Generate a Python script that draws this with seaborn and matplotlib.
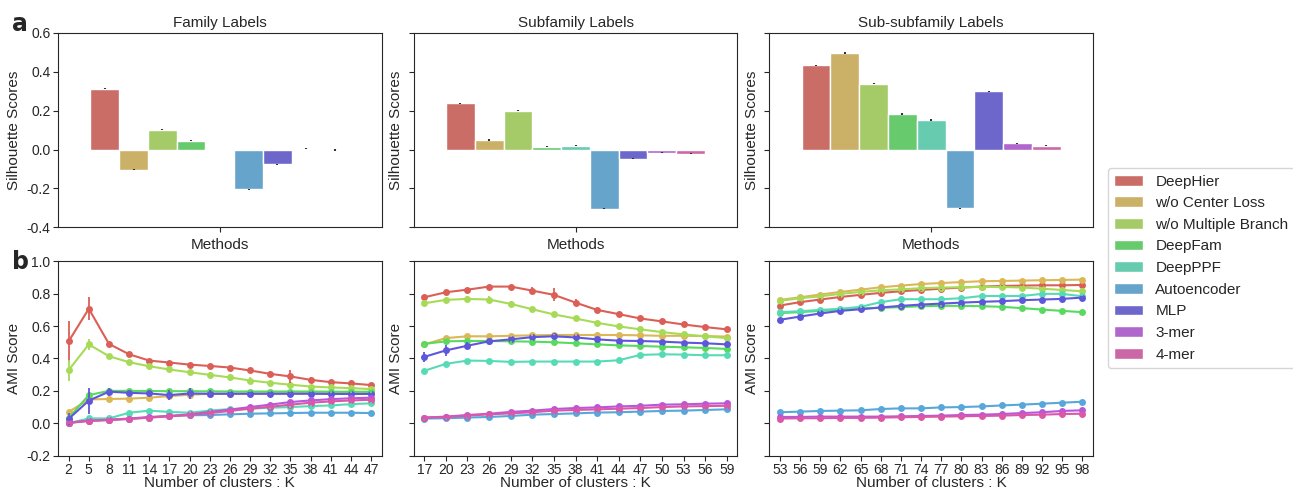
import numpy as np
import pandas as pd
import matplotlib
matplotlib.use("Agg")
import matplotlib.pyplot as plt
import matplotlib.patches as mpatches
import seaborn as sns

sns.set_style("ticks")
plt.rcParams['font.family'] = ['Liberation Sans', 'DejaVu Sans']
plt.rcParams['axes.unicode_minus'] = False

methods = ["DeepHier", "w/o Center Loss", "w/o Multiple Branch", "DeepFam", "DeepPPF",
           "Autoencoder", "MLP", "3-mer", "4-mer"]

# a: silhouette scores
sil_family = [0.313, -0.104, 0.103, 0.046, np.nan, -0.205, -0.075, 0.005, -0.002]
sil_subfamily = [0.239, 0.049, 0.200, 0.014, 0.019, -0.305, -0.048, -0.017, -0.022]
sil_subsub = [0.433, 0.497, 0.340, 0.183, 0.152, -0.302, 0.300, 0.032, 0.019]

# b: AMI scores vs K
k_family = list(range(2, 48, 3))
ami_family = {
    "DeepHier": [0.506, 0.707, 0.49, 0.426, 0.387, 0.375, 0.362, 0.354, 0.344, 0.326, 0.305, 0.289, 0.268, 0.254, 0.246, 0.236],
    "w/o Center Loss": [0.07, 0.147, 0.15, 0.152, 0.158, 0.168, 0.176, 0.182, 0.183, 0.184, 0.185, 0.186, 0.187, 0.188, 0.188, 0.19],
    "w/o Multiple Branch": [0.328, 0.487, 0.414, 0.377, 0.352, 0.332, 0.315, 0.299, 0.283, 0.264, 0.25, 0.238, 0.227, 0.221, 0.217, 0.211],
    "DeepFam": [0.033, 0.174, 0.2, 0.2, 0.199, 0.198, 0.198, 0.197, 0.196, 0.196, 0.196, 0.196, 0.196, 0.195, 0.195, 0.195],
    "DeepPPF": [0.0, 0.03, 0.03, 0.065, 0.078, 0.07, 0.065, 0.078, 0.088, 0.09, 0.096, 0.1, 0.106, 0.11, 0.118, 0.123],
    "Autoencoder": [0.0, 0.016, 0.02, 0.027, 0.035, 0.045, 0.049, 0.051, 0.055, 0.059, 0.061, 0.063, 0.065, 0.065, 0.065, 0.063],
    "MLP": [0.027, 0.14, 0.195, 0.188, 0.184, 0.174, 0.184, 0.182, 0.182, 0.182, 0.182, 0.182, 0.182, 0.181, 0.181, 0.181],
    "3-mer": [0.004, 0.016, 0.022, 0.029, 0.039, 0.045, 0.055, 0.07, 0.084, 0.1, 0.115, 0.131, 0.141, 0.149, 0.154, 0.158],
    "4-mer": [0.004, 0.014, 0.02, 0.027, 0.035, 0.043, 0.051, 0.063, 0.076, 0.09, 0.102, 0.115, 0.127, 0.135, 0.141, 0.145],
}
k_subfamily = list(range(17, 60, 3))
ami_subfamily = {
    "DeepHier": [0.778, 0.809, 0.825, 0.844, 0.844, 0.819, 0.793, 0.745, 0.70, 0.674, 0.647, 0.629, 0.61, 0.594, 0.58],
    "w/o Center Loss": [0.487, 0.526, 0.537, 0.537, 0.54, 0.543, 0.545, 0.545, 0.545, 0.545, 0.543, 0.54, 0.54, 0.539, 0.535],
    "w/o Multiple Branch": [0.741, 0.762, 0.768, 0.764, 0.737, 0.704, 0.672, 0.647, 0.62, 0.598, 0.58, 0.563, 0.549, 0.537, 0.526],
    "DeepFam": [0.49, 0.506, 0.508, 0.508, 0.506, 0.504, 0.5, 0.494, 0.487, 0.481, 0.477, 0.473, 0.469, 0.465, 0.459],
    "DeepPPF": [0.324, 0.367, 0.387, 0.385, 0.379, 0.381, 0.381, 0.381, 0.381, 0.389, 0.422, 0.426, 0.424, 0.42, 0.42],
    "Autoencoder": [0.029, 0.031, 0.035, 0.039, 0.045, 0.053, 0.057, 0.061, 0.066, 0.068, 0.072, 0.076, 0.078, 0.082, 0.086],
    "MLP": [0.41, 0.45, 0.479, 0.506, 0.518, 0.532, 0.537, 0.53, 0.518, 0.51, 0.508, 0.504, 0.498, 0.494, 0.487],
    "3-mer": [0.035, 0.041, 0.051, 0.059, 0.07, 0.078, 0.088, 0.094, 0.098, 0.104, 0.108, 0.115, 0.117, 0.121, 0.123],
    "4-mer": [0.035, 0.039, 0.047, 0.055, 0.061, 0.068, 0.078, 0.082, 0.086, 0.09, 0.094, 0.1, 0.104, 0.106, 0.108],
}
k_subsub = list(range(53, 99, 3))
ami_subsub = {
    "DeepHier": [0.727, 0.748, 0.764, 0.78, 0.793, 0.805, 0.815, 0.823, 0.831, 0.838, 0.844, 0.848, 0.85, 0.852, 0.852, 0.854],
    "w/o Center Loss": [0.762, 0.778, 0.795, 0.811, 0.825, 0.84, 0.85, 0.86, 0.866, 0.872, 0.877, 0.879, 0.881, 0.883, 0.885, 0.887],
    "w/o Multiple Branch": [0.756, 0.772, 0.784, 0.799, 0.811, 0.821, 0.827, 0.834, 0.838, 0.84, 0.842, 0.842, 0.838, 0.831, 0.823, 0.815],
    "DeepFam": [0.68, 0.686, 0.694, 0.7, 0.709, 0.713, 0.717, 0.723, 0.725, 0.725, 0.723, 0.719, 0.711, 0.702, 0.694, 0.686],
    "DeepPPF": [0.686, 0.692, 0.7, 0.707, 0.719, 0.748, 0.766, 0.766, 0.766, 0.772, 0.786, 0.786, 0.786, 0.799, 0.799, 0.784],
    "Autoencoder": [0.068, 0.072, 0.076, 0.078, 0.08, 0.088, 0.092, 0.092, 0.098, 0.1, 0.104, 0.11, 0.115, 0.121, 0.127, 0.133],
    "MLP": [0.639, 0.659, 0.678, 0.694, 0.704, 0.715, 0.725, 0.733, 0.739, 0.745, 0.75, 0.754, 0.76, 0.764, 0.768, 0.776],
    "3-mer": [0.039, 0.039, 0.041, 0.041, 0.041, 0.041, 0.043, 0.045, 0.047, 0.051, 0.053, 0.057, 0.063, 0.068, 0.076, 0.08],
    "4-mer": [0.029, 0.031, 0.031, 0.033, 0.033, 0.035, 0.037, 0.039, 0.041, 0.043, 0.045, 0.047, 0.051, 0.053, 0.057, 0.059],
}

# visible error bars (method, K, half-width); everything else gets a tiny one
big_err = [
    ("DeepHier", 2, 0.125), ("DeepHier", 5, 0.07), ("w/o Multiple Branch", 2, 0.065),
    ("w/o Multiple Branch", 5, 0.035), ("MLP", 2, 0.035), ("MLP", 5, 0.08), ("MLP", 8, 0.025),
    ("MLP", 11, 0.02), ("MLP", 14, 0.02), ("MLP", 17, 0.03), ("MLP", 20, 0.035), ("MLP", 23, 0.022),
    ("DeepHier", 32, 0.02), ("DeepHier", 35, 0.04), ("DeepHier", 38, 0.02),
    ("w/o Multiple Branch", 23, 0.02), ("w/o Multiple Branch", 26, 0.02), ("w/o Multiple Branch", 29, 0.02),
]
small_err = 0.008

pal = sns.color_palette("hls", len(methods))
bar_pal = [sns.desaturate(c, 0.75) for c in pal]

fig, axes = plt.subplots(2, 3, figsize=(12.93, 4.91), dpi=100, sharey="row")
fig.subplots_adjust(left=0.0449, right=0.8453, top=0.9328, bottom=0.072, wspace=0.099, hspace=0.175)

titles = ["Family Labels", "Subfamily Labels", "Sub-subfamily Labels"]
for ax, vals, title in zip(axes[0], [sil_family, sil_subfamily, sil_subsub], titles):
    df = pd.DataFrame({"Methods": [""] * len(methods), "method": methods, "score": vals})
    sns.barplot(data=df, x="Methods", y="score", hue="method", hue_order=methods,
                palette=pal, saturation=0.75, edgecolor="white", linewidth=1,
                errorbar=None, legend=False, ax=ax)
    for p in ax.patches:
        h = p.get_height()
        if np.isfinite(h):
            ax.errorbar(p.get_x() + p.get_width() / 2, h, yerr=0.003, fmt="none",
                        ecolor="#333333", elinewidth=1.5)
    ax.set_xlim(-0.5, 0.5)
    ax.set_title(title, fontsize=11, pad=4)
    ax.set_ylabel("Silhouette Scores", fontsize=11)
    ax.set_xlabel("Methods", fontsize=11, labelpad=2)
    ax.set_xticks([0])
    ax.set_xticklabels([""])
    ax.set_ylim(-0.4, 0.6)
    ax.set_yticks(np.arange(-0.4, 0.61, 0.2))
    ax.set_yticklabels(["-0.4", "-0.2", "0.0", "0.2", "0.4", "0.6"])
    ax.tick_params(labelsize=10, pad=2)

for ax, ks, ami in zip(axes[1], [k_family, k_subfamily, k_subsub], [ami_family, ami_subfamily, ami_subsub]):
    rows = []
    for m in methods:
        for k, v in zip(ks, ami[m]):
            rows.append((m, k, v))
    df = pd.DataFrame(rows, columns=["method", "K", "AMI"])
    sns.lineplot(data=df, x="K", y="AMI", hue="method", hue_order=methods, palette=pal,
                 marker="o", markersize=5, markeredgewidth=0, linewidth=1.5,
                 legend=False, ax=ax)
    for i, m in enumerate(methods):
        errs = []
        for k in ks:
            e = small_err
            for bm, bk, be in big_err:
                if bm == m and bk == k:
                    e = be
            errs.append(e)
        ax.errorbar(ks, ami[m], yerr=errs, fmt="none", ecolor=pal[i], elinewidth=1.3)
    ax.set_xticks(ks)
    ax.margins(x=0.035)
    ax.set_ylim(-0.2, 1.0)
    ax.set_yticks(np.arange(-0.2, 1.01, 0.2))
    ax.set_yticklabels(["-0.2", "0.0", "0.2", "0.4", "0.6", "0.8", "1.0"])
    ax.set_ylabel("AMI Score", fontsize=11)
    ax.set_xlabel("Number of clusters : K", fontsize=11, labelpad=-1)
    ax.tick_params(labelsize=10, pad=2)

for ax in axes.flat:
    ax.yaxis.set_tick_params(labelleft=False)
    ax.yaxis.label.set_visible(True)
axes[0, 0].yaxis.set_tick_params(labelleft=True)
axes[1, 0].yaxis.set_tick_params(labelleft=True)

handles = [mpatches.Patch(facecolor=c, edgecolor="white") for c in bar_pal]
fig.legend(handles, methods, loc="center left", bbox_to_anchor=(0.857, 0.454),
           fontsize=11, handlelength=1.9, handletextpad=0.8, labelspacing=0.5,
           frameon=True, borderaxespad=0, edgecolor="#cccccc", fancybox=True)

fig.text(0.009, 0.937, "a", fontsize=17, fontweight="bold", family="DejaVu Sans")
fig.text(0.009, 0.452, "b", fontsize=17, fontweight="bold", family="DejaVu Sans")

fig.savefig("out.png", dpi=100)
